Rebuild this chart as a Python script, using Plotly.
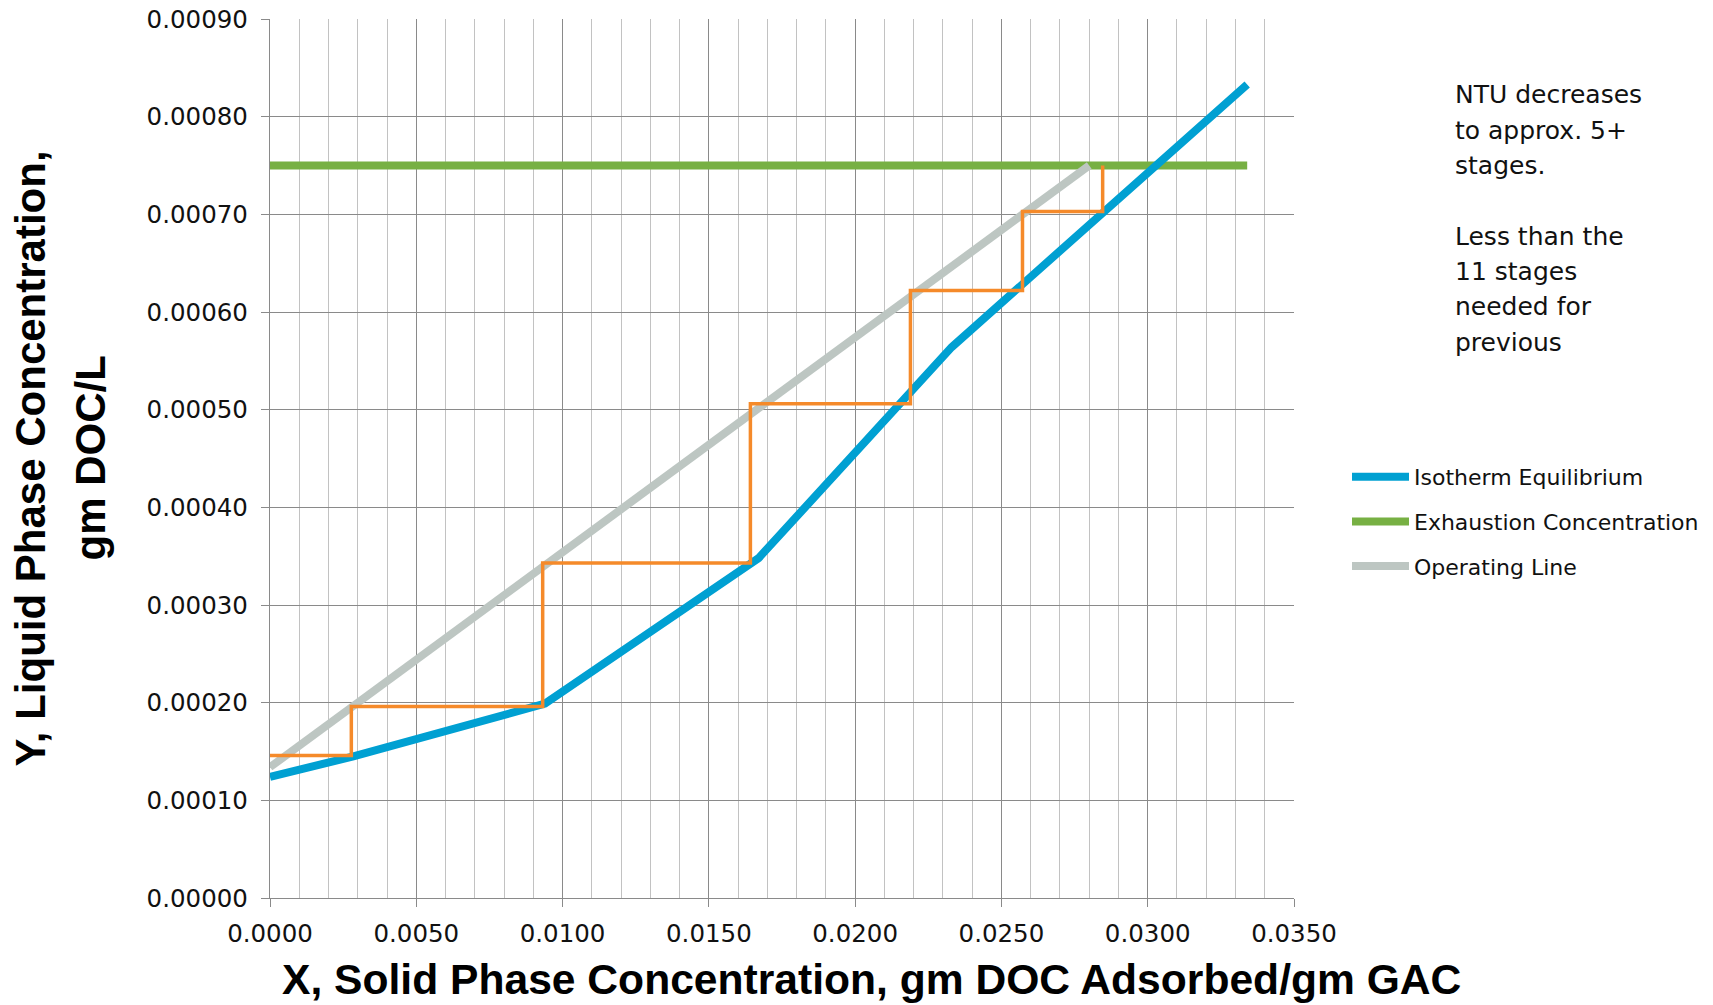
import plotly.graph_objects as go

# ---- data ----
iso_x = [0.0, 0.00285, 0.0094, 0.0167, 0.0233, 0.0334]
iso_y = [0.000124, 0.000145, 0.000199, 0.000348, 0.000564, 0.000833]

exh_x = [0.0, 0.0334]
exh_y = [0.00075, 0.00075]

op_x = [0.0, 0.0280]
op_y = [0.000134, 0.00075]

# stage construction (drawn as horizontal-then-vertical steps)
stage_x = [0.0, 0.00278, 0.00932, 0.01642, 0.02189, 0.02572, 0.02846]
stage_y = [0.000146, 0.000196, 0.000343, 0.000506, 0.000622, 0.000703, 0.00075]

x_title = "X, Solid Phase Concentration, gm DOC Adsorbed/gm GAC"
y_title_lines = ["Y, Liquid Phase Concentration,", "gm DOC/L"]
note_lines = ["NTU decreases", "to approx. 5+", "stages.", "",
              "Less than the", "11 stages", "needed for", "previous"]

BLUE = "#00A0D2"
GREEN = "#77B043"
GRAY = "#BDC6C2"
ORANGE = "#F58A2A"
TXT = "DejaVu Sans"
TITLE_FONT = "Liberation Sans"

# plot-area geometry (pixels) used to place paper-referenced text
W, H = 1713, 1005
ML, MR, MT, MB = 270, 419, 19, 107
PW, PH = W - ML - MR, H - MT - MB


def px_x(p):
    return (p - ML) / PW


def px_y(p):
    return (H - MB - p) / PH


fig = go.Figure()
fig.add_trace(go.Scatter(x=exh_x, y=exh_y, mode="lines", name="Exhaustion Concentration",
                         line=dict(color=GREEN, width=8), legendrank=2, legendgroup="b"))
fig.add_trace(go.Scatter(x=op_x, y=op_y, mode="lines", name="Operating Line",
                         line=dict(color=GRAY, width=8), legendrank=3, legendgroup="c"))
fig.add_trace(go.Scatter(x=iso_x, y=iso_y, mode="lines", name="Isotherm Equilibrium",
                         line=dict(color=BLUE, width=8), legendrank=1, legendgroup="a"))
fig.add_trace(go.Scatter(x=stage_x, y=stage_y, mode="lines", showlegend=False,
                         line=dict(color=ORANGE, width=3.5, shape="hv")))

annotations = []
pitch = 35.3
for i, t in enumerate(note_lines):
    if not t:
        continue
    annotations.append(dict(text=t, xref="paper", yref="paper",
                            x=px_x(1453), y=px_y(95 + i * pitch),
                            xanchor="left", yanchor="middle", align="left", showarrow=False,
                            font=dict(family=TXT, size=25, color="#111111")))
annotations.append(dict(text=x_title, xref="paper", yref="paper", x=px_x(871), y=px_y(979),
                        xanchor="center", yanchor="middle", showarrow=False,
                        font=dict(family=TITLE_FONT, size=42.6, color="#000000", weight="bold")))
for i, t in enumerate(y_title_lines):
    annotations.append(dict(text=t, xref="paper", yref="paper", x=px_x(30 + 60 * i), y=0.5,
                            xanchor="center", yanchor="middle", showarrow=False, textangle=-90,
                            font=dict(family=TITLE_FONT, size=42, color="#000000",
                                      weight="bold")))

fig.update_layout(
    width=W, height=H,
    margin=dict(l=ML, r=MR, t=MT, b=MB, autoexpand=False),
    paper_bgcolor="white", plot_bgcolor="white",
    font=dict(family=TXT, size=22, color="#111111"),
    showlegend=True,
    legend=dict(x=px_x(1347), xanchor="left", y=px_y(456), yanchor="top",
                font=dict(family=TXT, size=22, color="#111111"),
                bgcolor="rgba(0,0,0,0)", itemwidth=57, tracegroupgap=13),
    annotations=annotations,
)

fig.update_xaxes(range=[0, 0.035], dtick=0.005, tick0=0, tickformat=".4f",
                 showgrid=True, gridcolor="#8A8A8A", gridwidth=1.3,
                 minor=dict(dtick=0.001, showgrid=True, gridcolor="#C2C2C2", gridwidth=1.3),
                 showline=True, linecolor="#8A8A8A", linewidth=1.3,
                 ticks="outside", ticklen=8, tickcolor="#8A8A8A", tickwidth=1.3,
                 ticklabelstandoff=5, zeroline=False, automargin=False,
                 tickfont=dict(family=TXT, size=24.5, color="#111111"))
fig.update_yaxes(range=[0, 0.0009], dtick=0.0001, tick0=0, tickformat=".5f",
                 showgrid=True, gridcolor="#8A8A8A", gridwidth=1.3,
                 showline=True, linecolor="#8A8A8A", linewidth=1.3,
                 ticks="outside", ticklen=8, tickcolor="#8A8A8A", tickwidth=1.3,
                 ticklabelstandoff=8, zeroline=False, automargin=False,
                 tickfont=dict(family=TXT, size=24.5, color="#111111"))

fig.write_html("out.html")
